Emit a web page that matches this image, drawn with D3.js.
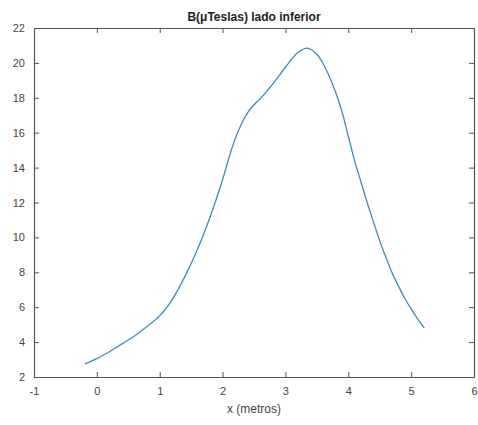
<!DOCTYPE html>
<html>
<head>
<meta charset="utf-8">
<script src="https://cdn.jsdelivr.net/npm/d3@7"></script>
<style>
  html, body { margin: 0; padding: 0; background: #fff; }
  svg { display: block; font-family: "Liberation Sans", Arial, sans-serif; }
</style>
</head>
<body>
<svg id="chart" width="478" height="425"></svg>
<script>
// Data
const xValues = [-0.19, 0.0, 0.2, 0.4, 0.6, 0.8, 1.0, 1.2, 1.4, 1.6, 1.8, 2.0, 2.1, 2.2, 2.3, 2.4, 2.5, 2.6, 2.8, 3.0, 3.2, 3.35, 3.5, 3.6, 3.7, 3.8, 3.9, 4.0, 4.1, 4.2, 4.3, 4.4, 4.5, 4.6, 4.7, 4.8, 4.9, 5.0, 5.1, 5.21];
const bValues = [2.75, 3.05, 3.45, 3.9, 4.35, 4.9, 5.5, 6.45, 7.75, 9.3, 11.15, 13.3, 14.55, 15.65, 16.5, 17.15, 17.6, 17.95, 18.8, 19.75, 20.6, 20.85, 20.5, 19.95, 19.2, 18.3, 17.2, 15.8, 14.4, 13.2, 12.0, 10.9, 9.8, 8.85, 7.95, 7.2, 6.5, 5.9, 5.35, 4.8];
const xTicks = [-1, 0, 1, 2, 3, 4, 5, 6];
const yTicks = [2, 4, 6, 8, 10, 12, 14, 16, 18, 20, 22];
const titleText = "B(\u03bcTeslas) lado inferior";
const xLabelText = "x (metros)";

const svg = d3.select("#chart");
const margin = { left: 34, right: 4, top: 28, bottom: 48 };
const W = 478, H = 425;
const x = d3.scaleLinear().domain([-1, 6]).range([margin.left, W - margin.right]);
const y = d3.scaleLinear().domain([2, 22]).range([H - margin.bottom, margin.top]);

const axisColor = "#555";
const textColor = "#444";
const fmt = d => String(d);

// Bottom axis (ticks inward)
const gB = svg.append("g").attr("transform", `translate(0,${y(2)})`)
  .call(d3.axisBottom(x).tickValues(xTicks).tickFormat(fmt).tickSizeInner(-5).tickSizeOuter(0).tickPadding(10));
// Top axis
const gT = svg.append("g").attr("transform", `translate(0,${y(22)})`)
  .call(d3.axisTop(x).tickValues(xTicks).tickSizeInner(-5).tickSizeOuter(0).tickFormat(""));
// Left axis
const gL = svg.append("g").attr("transform", `translate(${x(-1)},0)`)
  .call(d3.axisLeft(y).tickValues(yTicks).tickFormat(fmt).tickSizeInner(-5).tickSizeOuter(0).tickPadding(9));
// Right axis
const gR = svg.append("g").attr("transform", `translate(${x(6)},0)`)
  .call(d3.axisRight(y).tickValues(yTicks).tickSizeInner(-5).tickSizeOuter(0).tickFormat(""));

[gB, gT, gL, gR].forEach(g => {
  g.select(".domain").attr("stroke", axisColor).attr("stroke-width", 1.2);
  g.selectAll(".tick line").attr("stroke", axisColor).attr("stroke-width", 1);
  g.selectAll(".tick text").attr("fill", textColor).attr("font-size", 11);
});

// Line
const line = d3.line()
  .x((d, i) => x(xValues[i]))
  .y((d, i) => y(bValues[i]))
  .curve(d3.curveCatmullRom.alpha(0.5));
svg.append("path")
  .datum(bValues)
  .attr("d", line)
  .attr("fill", "none")
  .attr("stroke", "#3a8db8")
  .attr("stroke-width", 1.3);

// Title
svg.append("text")
  .attr("x", (x(-1) + x(6)) / 2)
  .attr("y", 21)
  .attr("text-anchor", "middle")
  .attr("font-size", 12)
  .attr("font-weight", "bold")
  .attr("fill", "#222")
  .text(titleText);

// X label
svg.append("text")
  .attr("x", (x(-1) + x(6)) / 2)
  .attr("y", 413)
  .attr("text-anchor", "middle")
  .attr("font-size", 12)
  .attr("fill", textColor)
  .text(xLabelText);
</script>
</body>
</html>
